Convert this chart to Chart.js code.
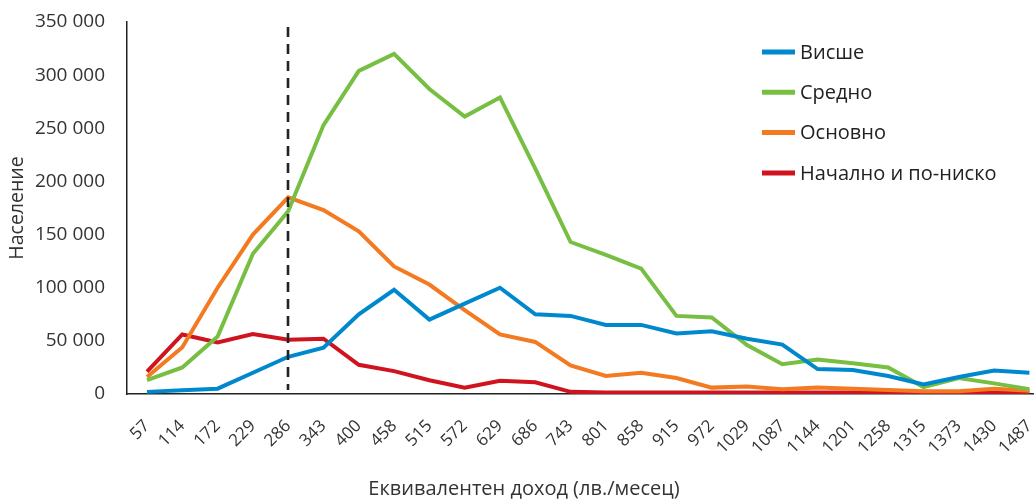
<!DOCTYPE html>
<html lang="bg">
<head>
  <meta charset="UTF-8">
  <title>Население по доход и образование</title>
  <script src="https://cdn.jsdelivr.net/npm/chart.js"></script>
  <style>
    body { margin: 0; background: #fff; }
    #wrap { width: 1034px; height: 500px; position: relative; }
  </style>
</head>
<body>
  <div id="wrap"><canvas id="chart"></canvas></div>

  <script>
    // доход (лв./месец)
    const incomes = ["57", "114", "172", "229", "286", "343", "400", "458", "515", "572", "629", "686", "743",
      "801", "858", "915", "972", "1029", "1087", "1144", "1201", "1258", "1315", "1373", "1430", "1487"];

    const higher = [2000, 3500, 5000, 20000, 35000, 43500, 75000, 98000, 70000, 85000, 100000, 75000, 73500,
      65000, 65000, 57000, 59000, 52000, 46500, 23500, 22500, 17000, 9000, 16000, 22000, 20000];
    const secondary = [13000, 25000, 54000, 132000, 172000, 253000, 304000, 320000, 287000, 261000, 279000, 212000, 143000,
      131000, 118000, 73500, 72000, 46000, 28000, 32500, 29000, 25000, 6500, 15000, 10000, 4500];
    const basic = [16000, 44000, 100000, 150000, 185000, 173000, 153000, 120000, 103000, 79000, 56000, 49000, 27000,
      17000, 20000, 15000, 6000, 7000, 4500, 6000, 5000, 3800, 2500, 2500, 5000, 3000];
    const primary = [21000, 56000, 48500, 56500, 51000, 52000, 27500, 21500, 13000, 6000, 12500, 11000, 2000,
      1500, 1500, 1500, 1500, 1500, 1500, 1500, 1500, 1500, 1500, 1500, 1500, 1500];

    const yTicks = [0, 50000, 100000, 150000, 200000, 250000, 300000, 350000];
    const povertyLine = "286";
    const xTitle = "Еквивалентен доход (лв./месец)";

    const FONT = "'Open Sans', 'Noto Sans', sans-serif";
    const TEXT = "#333";

    function fmt(v) {
      return String(v).replace(/\B(?=(\d{3})+(?!\d))/g, " ");
    }

    function toPoints(arr) {
      return arr.map((v, i) => ({ x: i, y: v }));
    }

    // вертикална пунктирана линия, легенда и надпис на оста x
    const extras = {
      id: "extras",
      afterDatasetsDraw(chart) {
        const ctx = chart.ctx;
        const area = chart.chartArea;
        const x = chart.scales.x.getPixelForValue(incomes.indexOf(povertyLine));
        ctx.save();
        ctx.strokeStyle = "#222";
        ctx.lineWidth = 2.6;
        ctx.setLineDash([10, 7]);
        ctx.beginPath();
        ctx.moveTo(Math.round(x), area.top + 5);
        ctx.lineTo(Math.round(x), area.bottom - 4);
        ctx.stroke();
        ctx.setLineDash([]);

        // легенда
        const lx = 762;
        ctx.font = "20px " + FONT;
        ctx.textBaseline = "middle";
        ctx.textAlign = "left";
        chart.data.datasets.forEach((ds, i) => {
          const y = 52 + i * 40.3;
          ctx.strokeStyle = ds.borderColor;
          ctx.lineWidth = 5;
          ctx.beginPath();
          ctx.moveTo(lx, y);
          ctx.lineTo(lx + 33, y);
          ctx.stroke();
          ctx.fillStyle = "#222";
          ctx.fillText(ds.label, lx + 38, y + 1);
        });

        // надпис на оста x
        ctx.fillStyle = TEXT;
        ctx.textAlign = "center";
        ctx.fillText(xTitle, 524, 489);
        ctx.restore();
      }
    };

    const common = { borderWidth: 4, pointRadius: 0, tension: 0, fill: false };

    new Chart(document.getElementById("chart"), {
      type: "line",
      data: {
        datasets: [
          { label: "Висше", data: toPoints(higher), borderColor: "#0088cf", ...common },
          { label: "Средно", data: toPoints(secondary), borderColor: "#77bf43", ...common },
          { label: "Основно", data: toPoints(basic), borderColor: "#f37a21", ...common },
          { label: "Начално и по-ниско", data: toPoints(primary), borderColor: "#d0141f", ...common }
        ]
      },
      options: {
        responsive: true,
        maintainAspectRatio: false,
        animation: false,
        layout: { padding: 0 },
        plugins: { legend: { display: false }, tooltip: { enabled: false } },
        scales: {
          x: {
            type: "linear",
            min: -0.567,
            max: 25.13,
            grid: { display: false },
            border: { display: true, color: "#222", width: 1.5 },
            afterFit(scale) { scale.paddingRight = 0; scale.height = 106; },
            ticks: {
              stepSize: 1,
              includeBounds: false,
              autoSkip: false,
              minRotation: 45,
              maxRotation: 45,
              padding: 14,
              color: TEXT,
              font: { family: FONT, size: 17 },
              callback: (v) => incomes[v] ?? ""
            }
          },
          y: {
            min: 0,
            max: 350000,
            afterBuildTicks(scale) { scale.ticks = yTicks.map(v => ({ value: v })); },
            afterFit(scale) { scale.width = 127; scale.paddingTop = 22; },
            grid: { display: false },
            border: { display: true, color: "#222", width: 1.5 },
            ticks: {
              padding: 14,
              color: TEXT,
              font: { family: FONT, size: 19 },
              callback: (v) => fmt(v)
            },
            title: {
              display: true,
              text: "Население",
              color: TEXT,
              font: { family: FONT, size: 19.5 },
              padding: { top: 6, bottom: 4 }
            }
          }
        }
      },
      plugins: [extras]
    });
  </script>
</body>
</html>
